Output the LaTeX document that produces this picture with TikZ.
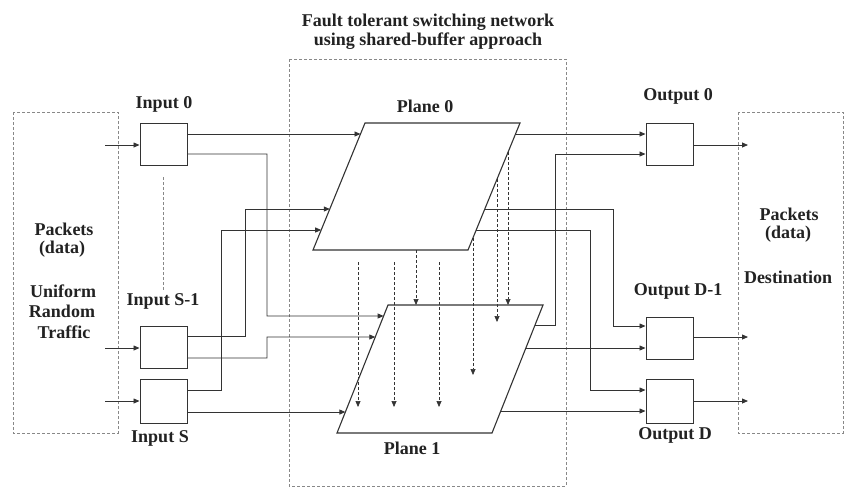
\documentclass[tikz,border=0pt]{standalone}
\usepackage{fontspec}
\setmainfont{Liberation Serif}
\usetikzlibrary{arrows.meta}
\definecolor{ln}{HTML}{333333}
\definecolor{txt}{HTML}{222222}
\definecolor{frm}{HTML}{888888}
\tikzset{
  box/.style={draw=ln, line width=1pt, minimum width=47pt, minimum height=42pt, inner sep=0pt},
  conn/.style={draw=ln, line width=0.8pt},
  arr/.style={conn, -{Triangle[length=6pt,width=5pt]}},
  darr/.style={draw=ln, line width=0.7pt, dash pattern=on 3pt off 2pt, -{Triangle[length=6pt,width=5pt]}},
  frame/.style={draw=frm, line width=0.8pt, dash pattern=on 3pt off 2pt},
  plane/.style={draw=ln, line width=1.1pt},
  lbl/.style={text=txt, font=\bfseries\fontsize{18}{20}\selectfont, inner sep=0pt, align=center}
}
\begin{document}
\begin{tikzpicture}[x=1pt,y=-1pt]
\useasboundingbox[fill=white] (0,0) rectangle (850,491);

% frames
\draw[frame] (13,112) rectangle (118,433);
\draw[frame] (289,59) rectangle (566,486);
\draw[frame] (738,112) rectangle (843,433);

% title
\node[lbl] (title1) at (428,22) {Fault tolerant switching network};
\node[lbl] (title2) at (428,41) {using shared-buffer approach};

% left box text
\node[lbl] (lp) at (64,229) {Packets};
\node[lbl] (ld) at (62,249) {(data)};
\node[lbl] (lu) at (63,291) {Uniform};
\node[lbl] (lr) at (62,311) {Random};
\node[lbl] (lt) at (64,332) {Traffic};

% right box text
\node[lbl] (rp) at (789,214) {Packets};
\node[lbl] (rd) at (788,234) {(data)};
\node[lbl] (rdst) at (788,277) {Destination};

% input / output boxes
\node[box] (in0) at (163.5,144) {};
\node[box] (inS1) at (163.5,347) {};
\node[box, minimum height=44pt] (inS) at (163.5,401) {};
\node[box] (out0) at (669.5,144) {};
\node[box] (outD1) at (669.5,338) {};
\node[box, minimum height=44pt] (outD) at (669.5,401) {};

\node[lbl] (lin0) at (164,104) {Input 0};
\node[lbl] (linS1) at (163,301) {Input S-1};
\node[lbl] (linS) at (160,438) {Input S};
\node[lbl] (lout0) at (678,96) {Output 0};
\node[lbl] (loutD1) at (678,291) {Output D-1};
\node[lbl] (loutD) at (675,435) {Output D};
\node[lbl] (lpl0) at (425,106) {Plane 0};
\node[lbl] (lpl1) at (412,448) {Plane 1};

% planes
\coordinate (p0tl) at (365,123);
\coordinate (p0tr) at (520,123);
\coordinate (p0br) at (468,250);
\coordinate (p0bl) at (313,250);
\coordinate (p1tl) at (388,305);
\coordinate (p1tr) at (543,305);
\coordinate (p1br) at (492,433);
\coordinate (p1bl) at (337,433);
\draw[plane] (p0tl) -- (p0tr) -- (p0br) -- (p0bl) -- cycle;
\draw[plane] (p1tl) -- (p1tr) -- (p1br) -- (p1bl) -- cycle;

% dashed line between inputs
\coordinate (vd1) at (163,177);
\coordinate (vd2) at (163,290);
\draw[frame] (vd1) -- (vd2);

% input feed arrows
\coordinate (fi0) at (105,145);
\coordinate (fiS1) at (105,348);
\coordinate (fiS) at (105,401);
\draw[arr] (fi0) -- (in0.west |- fi0);
\draw[arr] (fiS1) -- (inS1.west |- fiS1);
\draw[arr] (fiS) -- (inS.west |- fiS);

% output feed arrows
\coordinate (fo0) at (748,145);
\coordinate (foD1) at (748,337);
\coordinate (foD) at (748,401);
\draw[arr] (out0.east |- fo0) -- (fo0);
\draw[arr] (outD1.east |- foD1) -- (foD1);
\draw[arr] (outD.east |- foD) -- (foD);

% plane edge points
\coordinate (L0a) at (intersection of p0tl--p0bl and 0,134--10,134);
\coordinate (L0b) at (intersection of p0tl--p0bl and 0,209--10,209);
\coordinate (L0c) at (intersection of p0tl--p0bl and 0,230--10,230);
\coordinate (L1a) at (intersection of p1tl--p1bl and 0,316--10,316);
\coordinate (L1b) at (intersection of p1tl--p1bl and 0,337--10,337);
\coordinate (L1c) at (intersection of p1tl--p1bl and 0,412--10,412);
\coordinate (R0a) at (intersection of p0tr--p0br and 0,134--10,134);
\coordinate (R0b) at (intersection of p0tr--p0br and 0,209--10,209);
\coordinate (R0c) at (intersection of p0tr--p0br and 0,230--10,230);
\coordinate (R1a) at (intersection of p1tr--p1br and 0,325--10,325);
\coordinate (R1b) at (intersection of p1tr--p1br and 0,348--10,348);
\coordinate (R1c) at (intersection of p1tr--p1br and 0,411--10,411);

% inputs to planes
\draw[arr] (in0.east |- L0a) -- (L0a);
\draw[arr] (in0.east |- 0,154) -| (267,316) -- (L1a);
\draw[arr] (inS1.east |- 0,336) -| (245,209) -- (L0b);
\draw[arr] (inS1.east |- 0,358) -| (267,337) -- (L1b);
\draw[arr] (inS.east |- 0,390) -| (221,230) -- (L0c);
\draw[arr] (inS.east |- L1c) -- (L1c);

% planes to outputs
\draw[arr] (R0a) -- (out0.west |- R0a);
\draw[arr] (R0b) -| (613,326) -- (outD1.west |- 0,326);
\draw[arr] (R0c) -| (590,390) -- (outD.west |- 0,390);
\draw[arr] (R1a) -| (555,154) -- (out0.west |- 0,154);
\draw[arr] (R1b) -- (outD1.west |- R1b);
\draw[arr] (R1c) -- (outD.west |- R1c);

% dashed arrows between planes
\coordinate (d1s) at (358,262); \coordinate (d1e) at (358,407);
\coordinate (d2s) at (394,262); \coordinate (d2e) at (394,407);
\coordinate (d4s) at (439,262); \coordinate (d4e) at (439,407);
\coordinate (d3s) at (intersection of p0bl--p0br and 416,0--416,10);
\coordinate (d3e) at (intersection of p1tl--p1tr and 416,0--416,10);
\coordinate (d5s) at (intersection of p0tr--p0br and 473,0--473,10);
\coordinate (d5e) at (473,375);
\coordinate (d6s) at (intersection of p0tr--p0br and 497,0--497,10);
\coordinate (d6e) at (497,322);
\coordinate (d7s) at (intersection of p0tr--p0br and 508,0--508,10);
\coordinate (d7e) at (intersection of p1tl--p1tr and 508,0--508,10);
\draw[darr] (d1s) -- (d1e);
\draw[darr] (d2s) -- (d2e);
\draw[darr] (d3s) -- (d3e);
\draw[darr] (d4s) -- (d4e);
\draw[darr] (d5s) -- (d5e);
\draw[darr] (d6s) -- (d6e);
\draw[darr] (d7s) -- (d7e);
\end{tikzpicture}
\end{document}
